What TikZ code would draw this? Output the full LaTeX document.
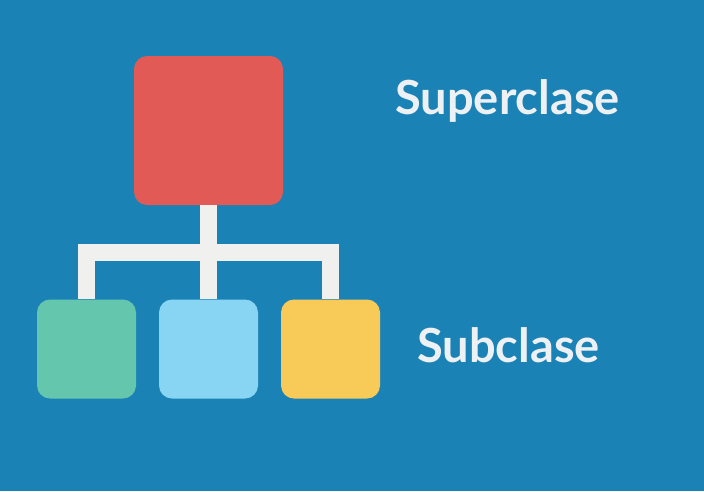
\documentclass[tikz,border=0pt]{standalone}
\usepackage{fontspec}
\setmainfont{Lato}
\usetikzlibrary{calc}

\begin{document}
\begin{tikzpicture}[x=1pt,y=-1pt]
	
	% colours of the slide
	\definecolor{slideblue}{RGB}{27,130,182}
	\definecolor{boxred}{RGB}{226,90,85}
	\definecolor{boxgreen}{RGB}{101,198,174}
	\definecolor{boxsky}{RGB}{135,213,242}
	\definecolor{boxyellow}{RGB}{248,203,88}
	\definecolor{linkgray}{RGB}{240,240,238}
	\definecolor{labelwhite}{RGB}{238,241,244}
	
	\tikzset{
		classbox/.style 2 args={
			fill=#1, draw=none, rounded corners=13pt,
			inner sep=0pt, minimum size=#2
		},
		link/.style={
			draw=linkgray, line width=17.5pt, line cap=butt, line join=miter
		},
		classlabel/.style={
			text=labelwhite, anchor=base, inner sep=0pt,
			font=\fontsize{47}{56}\selectfont\bfseries
		}
	}
	
	% background
	\fill[slideblue] (0,0) rectangle (704,491);
	\useasboundingbox (0,0) rectangle (704,491);
	
	% the superclass
	\node[classbox={boxred}{149pt}] (super) at (208.5,130.5) {};
	
	% the three subclasses
	\node[classbox={boxgreen}{99pt}] (subA) at (86.5,349) {};
	\node[classbox={boxsky}{99pt}] (subB) at (208.5,349) {};
	\node[classbox={boxyellow}{99pt}] (subC) at (330.5,349) {};
	
	% tree links
	\coordinate (bar) at ($(super.south)!0.5!(subB.north)$);
	\draw[link] (super.south) -- (subB.north);
	\draw[link] (subA.north) |- (bar) -| (subC.north);
	
	% labels
	\node[classlabel] (suplabel) at (507.5,114) {Superclase};
	\node[classlabel] (sublabel) at (508.5,362) {Subclase};
	
\end{tikzpicture}
\end{document}
